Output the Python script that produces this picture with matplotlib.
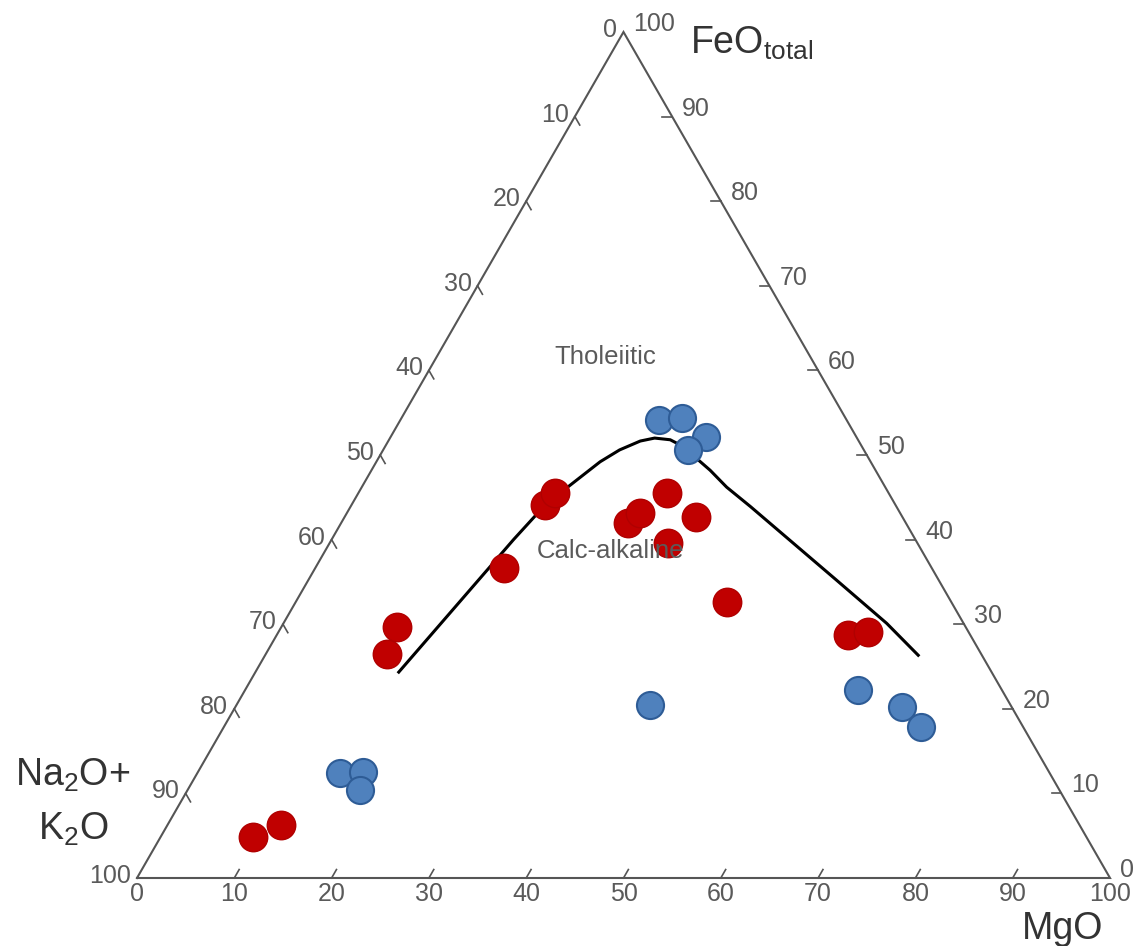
import numpy as np
import matplotlib
matplotlib.use("Agg")
import matplotlib.pyplot as plt

plt.rcParams["font.family"] = ["Liberation Sans", "DejaVu Sans"]
plt.rcParams["mathtext.fontset"] = "custom"
plt.rcParams["mathtext.rm"] = "Liberation Sans"

# ---- data: ternary compositions (FeO_total, MgO); Na2O+K2O = 100 - FeO - MgO ----
red_feo = [4.9, 6.3, 26.5, 29.7, 36.6, 44.1, 45.5, 42.0, 43.1, 45.5, 42.7, 39.6, 32.6, 28.7, 29.1]
red_mgo = [9.5, 11.6, 12.4, 11.9, 19.4, 19.9, 20.2, 29.5, 30.1, 31.7, 36.1, 34.8, 44.3, 58.7, 60.6]

blue_feo = [12.4, 12.5, 10.4, 54.1, 54.4, 52.1, 50.6, 20.5, 22.2, 20.2, 17.9]
blue_mgo = [14.7, 17.0, 17.7, 26.6, 28.8, 32.4, 31.3, 42.5, 63.0, 68.5, 71.6]

# Tholeiitic / calc-alkaline boundary
curve_feo = [24.2, 40.0, 43.4, 46.1, 49.2, 50.6, 51.65, 52.0, 51.8, 51.2, 49.6, 48.2, 46.2, 43.9, 35.2, 30.1, 26.2]
curve_mgo = [14.7, 18.7, 19.7, 21.1, 23.0, 24.3, 25.9, 27.2, 28.9, 30.2, 32.7, 34.8, 37.5, 41.1, 54.3, 62.0, 67.3]

tick_values = [0, 10, 20, 30, 40, 50, 60, 70, 80, 90, 100]
tick_labels = [str(v) for v in tick_values]

H = np.sqrt(3) / 2


def tern(feo, mgo):
    feo = np.asarray(feo, float)
    mgo = np.asarray(mgo, float)
    return mgo + feo / 2.0, feo * H


W, HH = 1147, 946
fig = plt.figure(figsize=(W / 100, HH / 100), dpi=100)
ax = fig.add_axes([0, 0, 1, 1])
ax.set_xlim(-137 / 9.73, (W - 137) / 9.73)
ax.set_ylim(-68 / 9.769, (HH - 68) / 9.769)
ax.axis("off")

edge_col = "#555555"
lab_col = "#5a5a5a"

# triangle
tx, ty = tern([0, 0, 100, 0], [0, 100, 0, 0])
ax.plot(tx, ty, color=edge_col, lw=1.5, zorder=1, solid_joinstyle="miter")

tl = 1.0
px2pt = 0.72
fs_tick = 18
for v, s in zip(tick_values, tick_labels):
    # bottom axis: MgO
    bx, by = tern(0, v)
    if 0 < v < 100:
        ax.plot([bx, bx + 0.5 * tl], [by, by + H * tl], color=edge_col, lw=1.2, zorder=1)
    ax.annotate(s, (bx, by), xytext=(0, -16 * px2pt), textcoords="offset points",
                ha="center", va="center", fontsize=fs_tick, color=lab_col)
    # left axis: Na2O+K2O (0 at top)
    lx, ly = tern(100 - v, 0)
    if 0 < v < 100:
        ax.plot([lx, lx + 0.5 * tl], [ly, ly - H * tl], color=edge_col, lw=1.2, zorder=1)
    ax.annotate(s, (lx, ly), xytext=(-6 * px2pt, 2 * px2pt), textcoords="offset points",
                ha="right", va="center", fontsize=fs_tick, color=lab_col)
    # right axis: FeO (0 at bottom right)
    rx, ry = tern(v, 100 - v)
    if 0 < v < 100:
        ax.plot([rx, rx - tl], [ry, ry], color=edge_col, lw=1.2, zorder=1)
    ax.annotate(s, (rx, ry), xytext=(10 * px2pt, 8 * px2pt), textcoords="offset points",
                ha="left", va="center", fontsize=fs_tick, color=lab_col)

# field names
fig.text(605 / W, 1 - 357 / HH, "Tholeiitic", ha="center", va="center",
         fontsize=18.5, color=lab_col, zorder=2)
fig.text(610 / W, 1 - 551 / HH, "Calc-alkaline", ha="center", va="center",
         fontsize=18.5, color=lab_col, zorder=2)

# axis titles
tc = "#333333"
fig.text(690 / W, 1 - 54 / HH, r"FeO$_{\mathregular{total}}$", ha="left", va="baseline",
         fontsize=27, color=tc)
fig.text(1063 / W, 1 - 939 / HH, "MgO", ha="center", va="baseline", fontsize=27, color=tc)
fig.text(15 / W, 1 - 786 / HH, r"Na$_{\mathregular{2}}$O+", ha="left", va="baseline",
         fontsize=27, color=tc)
fig.text(38 / W, 1 - 840 / HH, r"K$_{\mathregular{2}}$O", ha="left", va="baseline",
         fontsize=27, color=tc)

# boundary curve
cx, cy = tern(curve_feo, curve_mgo)
ax.plot(cx, cy, color="black", lw=2.2, zorder=3, solid_capstyle="butt",
        solid_joinstyle="round")

# samples
rx_, ry_ = tern(red_feo, red_mgo)
ax.plot(rx_, ry_, "o", ms=20.5, mfc="#C00000", mec="#B00000", mew=1.0, zorder=4, ls="none")
bx_, by_ = tern(blue_feo, blue_mgo)
ax.plot(bx_, by_, "o", ms=19.5, mfc="#4F81BD", mec="#2E5C96", mew=1.5, zorder=5, ls="none")

fig.savefig("out.png", dpi=100, facecolor="white")
